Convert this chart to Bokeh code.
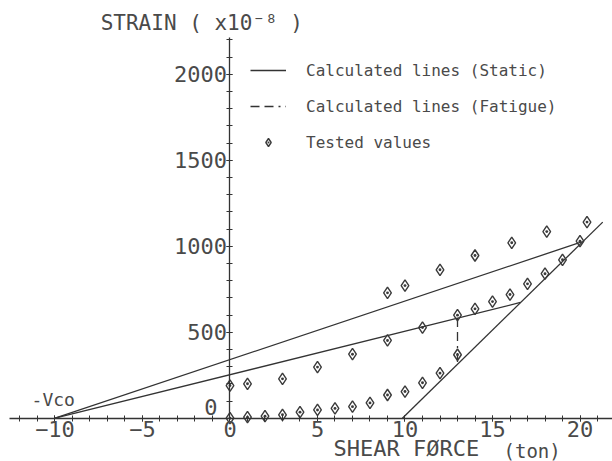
from bokeh.plotting import figure
from bokeh.models import Range1d, LinearAxis, SingleIntervalTicker, Label, Legend, LegendItem
from bokeh.embed import file_html
from bokeh.resources import INLINE

# ---- data ----
static_upper_x = [-10.0, 20.1]
static_upper_y = [0, 1025]
static_lower_x = [-10.0, 16.6]
static_lower_y = [0, 673]
steep_x = [9.85, 21.3]
steep_y = [0, 1140]
fatigue_x = [13.0, 13.0]
fatigue_y = [583, 314]

tested_force = [0, 1, 2, 3, 4, 5, 6, 7, 8, 9, 10, 11, 12, 13,
                0, 1, 3, 5, 7, 9, 11, 13, 14, 15, 16, 17, 18, 19, 20,
                9, 10, 12, 14, 16.1, 18.1, 20.4]
tested_strain = [0, 6, 12, 20, 35, 48, 57, 67, 89, 135, 155, 206, 262, 369,
                 190, 200, 229, 297, 372, 452, 527, 599, 636, 678, 719, 781, 840, 921, 1029,
                 729, 771, 863, 946, 1020, 1085, 1140]

x_ticks_interval = 5
y_ticks_interval = 500

FONT = "DejaVu Sans Mono"
TXT = "#4a4a4a"
LN = "#333333"

x_range = Range1d(-13.114, 21.857)
y_range = Range1d(-251.7, 2428.5)

p = figure(width=612, height=461, output_backend="svg", toolbar_location=None,
           x_axis_location=None, y_axis_location=None, min_border=0,
           x_range=x_range, y_range=y_range)
for g in p.grid:
    g.visible = False
p.outline_line_color = None

xaxis = LinearAxis(fixed_location=0,
                   ticker=SingleIntervalTicker(interval=x_ticks_interval, num_minor_ticks=5),
                   bounds=(-12.6, 21.85))
yaxis = LinearAxis(fixed_location=0,
                   ticker=SingleIntervalTicker(interval=y_ticks_interval, num_minor_ticks=5),
                   bounds=(0, 2215))
for ax in (xaxis, yaxis):
    ax.axis_line_color = LN
    ax.axis_line_width = 1.3
    ax.major_tick_line_color = LN
    ax.minor_tick_line_color = LN
    ax.major_tick_in = 3
    ax.major_tick_out = 3
    ax.minor_tick_in = 3
    ax.minor_tick_out = 3
    ax.major_label_text_font = FONT
    ax.major_label_text_font_size = "22px"
    ax.major_label_text_color = TXT
    ax.major_label_standoff = 0
yaxis.major_label_overrides = {0: ""}
p.add_layout(xaxis, "below")
p.add_layout(yaxis, "left")

r_static = p.line(static_upper_x, static_upper_y, line_color=LN, line_width=1.3)
p.line(static_lower_x, static_lower_y, line_color=LN, line_width=1.3)
p.line(steep_x, steep_y, line_color=LN, line_width=1.3)
r_fat = p.line(fatigue_x, fatigue_y, line_color=LN, line_width=1.3, line_dash="9 5 9 5 2 5")
r_test = p.scatter(tested_force, tested_strain, marker="diamond_dot",
                   size=11.5, line_color="#3a3a3a", line_width=1.4, fill_color=None)

legend = Legend(items=[LegendItem(label="Calculated lines (Static)", renderers=[r_static]),
                       LegendItem(label="Calculated lines (Fatigue)", renderers=[r_fat]),
                       LegendItem(label="Tested values", renderers=[r_test])],
                location=(250, 309), border_line_color=None, background_fill_alpha=0,
                label_text_font=FONT, label_text_font_size="16px", label_text_color=TXT,
                glyph_width=36, glyph_height=20, label_height=20, spacing=16,
                padding=0, margin=0, label_standoff=20)
p.add_layout(legend)

p.add_layout(Label(x=-7.39, y=2300, text="STRAIN ( x10⁻⁸ )", text_font=FONT,
                   text_font_size="21px", text_color=TXT, text_baseline="middle"))
p.add_layout(Label(x=5.91, y=-174, text="SHEAR FØRCE", text_font=FONT,
                   text_font_size="22px", text_color=TXT, text_baseline="middle"))
p.add_layout(Label(x=15.63, y=-188, text="(ton)", text_font=FONT,
                   text_font_size="19px", text_color=TXT, text_baseline="middle"))
p.add_layout(Label(x=-11.34, y=109, text="-Vco", text_font=FONT,
                   text_font_size="18px", text_color=TXT, text_baseline="middle"))
p.add_layout(Label(x=-0.714, y=65, text="0", text_font=FONT,
                   text_font_size="22px", text_color=TXT, text_align="right",
                   text_baseline="middle"))

open("out.html", "w").write(file_html(p, INLINE))
